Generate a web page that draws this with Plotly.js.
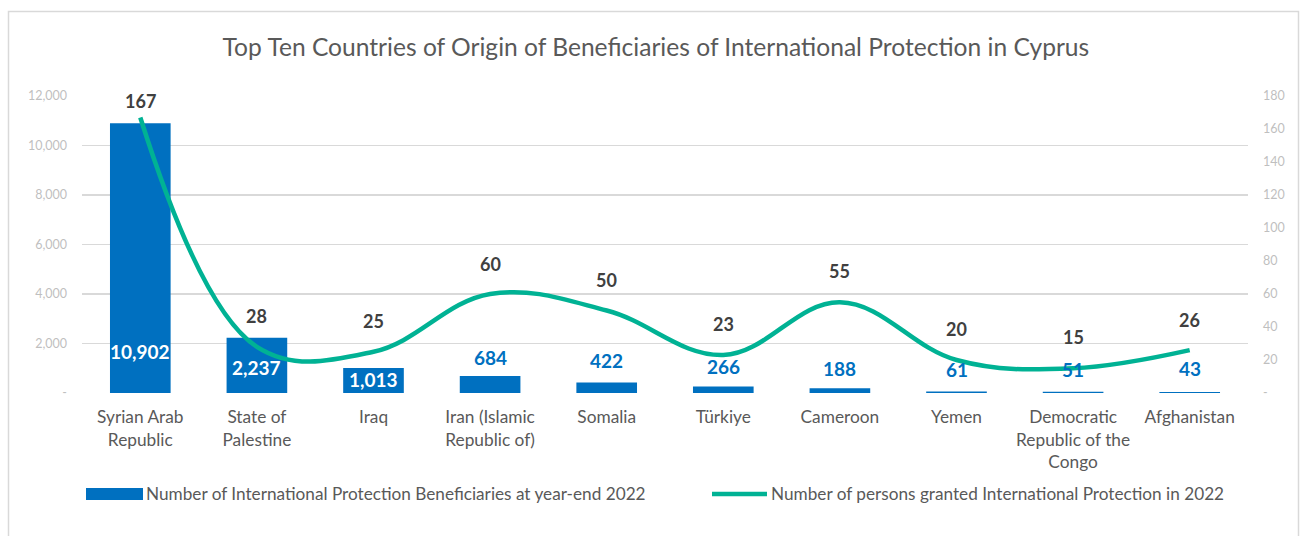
<!DOCTYPE html>
<html>
<head>
<meta charset="utf-8">
<script src="https://cdn.plot.ly/plotly-3.0.1.min.js"></script>
<style>html,body{margin:0;padding:0;background:#fff;}#chart{width:1304px;height:536px;}</style>
</head>
<body>
<div id="chart"></div>
<script>
const categories = ["Syrian Arab<br>Republic", "State of<br>Palestine", "Iraq", "Iran (Islamic<br>Republic of)", "Somalia", "Türkiye", "Cameroon", "Yemen", "Democratic<br>Republic of the<br>Congo", "Afghanistan"];
const beneficiaries = [10902, 2237, 1013, 684, 422, 266, 188, 61, 51, 43];
const granted = [167, 28, 25, 60, 50, 23, 55, 20, 15, 26];
const leftTicks = [0, 2000, 4000, 6000, 8000, 10000, 12000];
const rightTicks = [0, 20, 40, 60, 80, 100, 120, 140, 160, 180];
const barName = "Number of International Protection Beneficiaries at year-end 2022";
const lineName = "Number of persons granted International Protection in 2022";
const titleText = "Top Ten Countries of Origin of Beneficiaries of International Protection in Cyprus";

// styling (pixel offsets for labels)
const barLabelShift = [-228, -30, -12, 19, 22, 20, 20, 22, 22, 23];
const barLabelColor = ["#fff", "#fff", "#fff", "#0070c0", "#0070c0", "#0070c0", "#0070c0", "#0070c0", "#0070c0", "#0070c0"];
const lineLabelShift = [16, 31, 31, 30, 31, 31, 31, 31, 31, 30];

const FONT = "Lato, 'Open Sans', sans-serif";
const fmt = v => v === 0 ? "-" : v.toLocaleString("en-US");

const bar = {
  type: "bar", x: categories, y: beneficiaries, name: barName,
  marker: {color: "#0070c0"}, width: 0.52, hoverinfo: "skip"
};
const line = {
  type: "scatter", mode: "lines", x: categories, y: granted, yaxis: "y2", name: lineName,
  line: {color: "#00b294", width: 4.5, shape: "spline", smoothing: 1.1}, hoverinfo: "skip"
};

const annotations = [];
categories.forEach((c, i) => {
  annotations.push({x: c, y: beneficiaries[i], xref: "x", yref: "y", text: "<b>" + fmt(beneficiaries[i]) + "</b>",
    showarrow: false, yshift: barLabelShift[i], font: {family: FONT, size: 19, color: barLabelColor[i]}});
  annotations.push({x: c, y: granted[i], xref: "x", yref: "y2", text: "<b>" + granted[i] + "</b>",
    showarrow: false, yshift: lineLabelShift[i], font: {family: FONT, size: 18, color: "#404040"}});
});
// manual legend
const W = 1166, H = 297, L = 82, B = 393;
const px = x => (x - L) / W, py = y => (B - y) / H;
annotations.push({xref: "paper", yref: "paper", x: px(144), y: py(494), xanchor: "left", yanchor: "middle",
  text: barName, showarrow: false, font: {family: FONT, size: 17.2, color: "#595959"}});
annotations.push({xref: "paper", yref: "paper", x: px(769), y: py(494), xanchor: "left", yanchor: "middle",
  text: lineName, showarrow: false, font: {family: FONT, size: 17.2, color: "#595959"}});

const shapes = [
  {type: "rect", xref: "paper", yref: "paper", x0: px(8.5), x1: px(1298.5), y0: py(11.5), y1: py(560),
    line: {color: "#d9d9d9", width: 1.5}, fillcolor: "rgba(0,0,0,0)", layer: "below"},
  {type: "rect", xref: "paper", yref: "paper", x0: px(86), x1: px(143), y0: py(488), y1: py(500),
    line: {width: 0}, fillcolor: "#0070c0"},
  {type: "line", xref: "paper", yref: "paper", x0: px(712), x1: px(767), y0: py(494), y1: py(494),
    line: {color: "#00b294", width: 4.5}}
];

const layout = {
  width: 1304, height: 536,
  margin: {l: 82, r: 56, t: 96, b: 143},
  paper_bgcolor: "#fff", plot_bgcolor: "#fff",
  showlegend: false,
  title: {text: titleText, x: 0.503, xanchor: "center", y: 1 - 47 / 536, yanchor: "middle",
    font: {family: FONT, size: 24.6, color: "#595959"}},
  xaxis: {type: "category", showgrid: false, showline: false, zeroline: false, ticks: "",
    tickfont: {family: FONT, size: 17.3, color: "#595959"}, ticklabelstandoff: 12},
  yaxis: {range: [0, 12000], tickvals: leftTicks, ticktext: leftTicks.map(fmt), showgrid: true,
    gridcolor: "#d9d9d9", gridwidth: 1.3, zeroline: false, showline: false, ticks: "",
    tickfont: {family: FONT, size: 12.5, color: "#bfbfbf"}, ticklabelstandoff: 14},
  yaxis2: {range: [0, 180], overlaying: "y", side: "right", tickvals: rightTicks, ticktext: rightTicks.map(fmt),
    showgrid: false, zeroline: false, showline: false, ticks: "",
    tickfont: {family: FONT, size: 12.5, color: "#bfbfbf"}, ticklabelstandoff: 14},
  annotations: annotations,
  shapes: shapes
};
Plotly.newPlot("chart", [bar, line], layout, {displayModeBar: false, staticPlot: true});
</script>
</body>
</html>
